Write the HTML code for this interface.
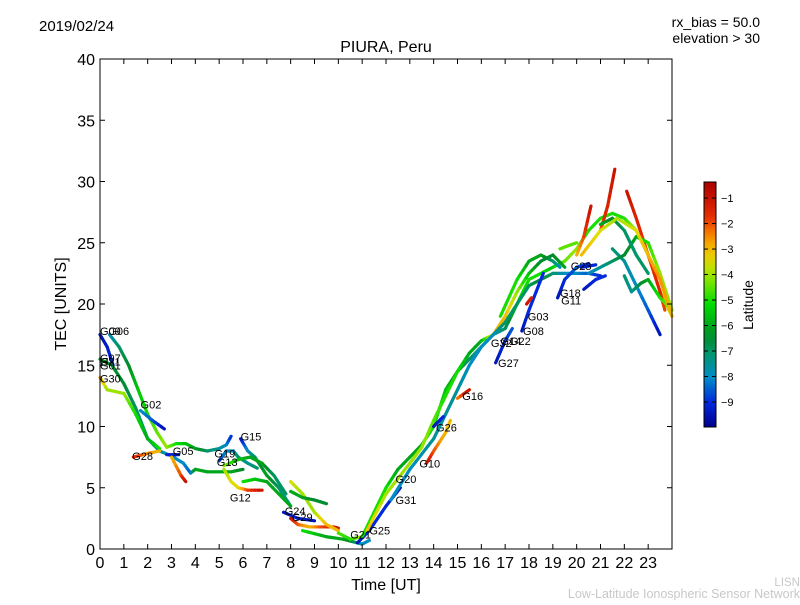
<!DOCTYPE html>
<html><head><meta charset="utf-8"><style>
body{margin:0;background:#fff;width:800px;height:600px;overflow:hidden}
svg text{font-family:"Liberation Sans","DejaVu Sans",sans-serif}
</style></head><body>
<svg id="chart" width="800" height="600" xmlns="http://www.w3.org/2000/svg">
<text x="39" y="31" font-size="15">2019/02/24</text>
<text x="760" y="27" font-size="14" text-anchor="end">rx_bias = 50.0</text>
<text x="760" y="43" font-size="14" text-anchor="end">elevation &gt; 30</text>
<text x="386" y="52" font-size="16" text-anchor="middle">PIURA, Peru</text>
<text x="386" y="590" font-size="16" text-anchor="middle">Time [UT]</text>
<text x="66" y="304" font-size="16" text-anchor="middle" transform="rotate(-90 66 304)">TEC [UNITS]</text>
<text x="800" y="586" font-size="11.5" fill="#c8c8c8" text-anchor="end">LISN</text>
<text x="800" y="598" font-size="12.5" fill="#c8c8c8" text-anchor="end">Low-Latitude Ionospheric Sensor Network</text>
<g id="marks"></g>
<g id="axes"></g>
<g id="cbar"></g>
</svg>
<script>
// x ticks (hours), y ticks (TEC), colorbar ticks (latitude)
const xTicks=[0,1,2,3,4,5,6,7,8,9,10,11,12,13,14,15,16,17,18,19,20,21,22,23];
const yTicks=[0,5,10,15,20,25,30,35,40];
const latTicks=[-1,-2,-3,-4,-5,-6,-7,-8,-9];
// satellite tracks: [time, TEC, latitude]
const trackA=[[0,17.5,-9.5],[0.3,16.5,-9.3],[0.55,15,-9]];
const trackB=[[0.4,17.5,-8],[0.8,16.5,-7],[1.2,15,-6.5],[1.6,13,-5.5],[2,11,-5],[2.4,9.5,-4.5],[2.8,8.3,-4],[3.2,8.6,-5],[3.6,8.6,-5.5],[4,8.2,-6],[4.5,8.0,-7],[5,8.2,-7.5],[5.3,8.5,-8],[5.5,9.2,-9]];
const trackC=[[0,15.5,-6],[0.5,15,-6.5],[1,13.5,-6.5],[1.5,11.5,-7],[2,9,-7],[2.5,8,-7.5],[3,7.6,-8],[3.5,7,-8],[3.8,6.2,-8.5],[4,6.5,-6],[4.5,6.3,-6],[5,6.3,-6],[5.5,6.3,-6],[6,6.5,-6.5]];
const trackD=[[0,14,-2.5],[0.3,13,-4],[1,12.7,-4],[1.5,11,-5],[2,9,-6],[2.5,8.2,-5]];
const trackE=[[1.7,11.3,-8],[2.2,10.5,-8.5],[2.7,9.8,-9.5]];
const trackF=[[1.4,7.5,-1.5],[2.0,7.8,-2.5],[2.5,8,-3]];
const trackG=[[2.8,7.7,-9],[3.3,7.7,-9.5]];
const trackH=[[3,7.5,-3],[3.4,6,-2],[3.6,5.5,-1]];
const trackI=[[5,7.2,-9],[5.3,8,-8],[5.6,8,-8],[5.8,7.5,-7],[6.2,7,-7.5],[6.6,6.6,-7]];
const trackJ=[[5.2,6.5,-4],[5.5,5.5,-3.5],[5.8,5,-3.5],[6.2,4.8,-2],[6.8,4.8,-1]];
const trackK=[[5.9,9,-9.5],[6.2,8,-8],[6.5,7.5,-7],[7,6,-6],[7.5,5,-7],[8,3.5,-7.5]];
const trackL=[[5.2,6.8,-4],[5.8,7.3,-5.5],[6.3,7.5,-6],[6.8,7,-6],[7.3,6,-7],[7.8,4.5,-7]];
const trackM=[[6,5.5,-5],[6.5,5.7,-5.5],[7,5.5,-6],[7.5,4.5,-6],[8,3.5,-6]];
const trackN=[[7.7,3,-9.5],[8.3,2.5,-9],[9,2.3,-9.5]];
const trackO=[[8,2.5,-1],[8.3,2,-2],[8.8,1.8,-3],[9.3,1.8,-2],[9.8,1.8,-1.5],[10,1.7,-1]];
const trackP=[[8,5.5,-3.5],[8.5,4.5,-4],[9,3,-4],[9.5,2,-3],[10,1.5,-3]];
const trackQ=[[8,4.7,-6],[8.5,4.2,-6],[9,4,-6.5],[9.5,3.7,-6.5]];
const trackR=[[8.5,1.5,-5],[9.5,1,-6],[10.2,0.8,-6],[10.8,0.5,-7],[11,0.4,-8],[11.3,0.7,-8]];
const trackS=[[10,1.3,-4.5],[10.5,0.8,-5],[11,1,-4],[11.3,1.5,-3]];
const trackT=[[10.8,0.5,-9.5],[11.3,1.5,-9],[12,3.5,-9],[12.6,5,-9.5]];
const trackU=[[11,1,-5],[11.5,3,-5],[12,5,-5],[12.5,6.5,-6],[13,7.5,-6],[13.5,8.5,-6],[14,10,-5],[14.5,13,-5.5],[15,14.5,-6.5],[15.5,15.5,-7],[16,16.5,-7.5],[16.5,17.5,-8],[17,18,-7],[17.5,20,-5.5],[18,22,-5],[18.5,22.5,-5],[19,23,-5.5],[19.5,23.5,-4.5],[20,24.5,-4],[20.5,26,-5],[21,27,-5],[21.5,27.4,-5],[22,27,-5],[22.5,26,-4],[23,24,-3.5],[23.5,21,-3.5],[24,19,-4]];
const trackV=[[11.2,1.5,-3],[12,4.5,-4],[13,7,-4],[13.5,8.3,-4],[14,10.5,-4.5],[14.5,12.5,-5],[15,14.5,-5],[15.5,16,-6],[16,17,-6],[16.5,17.5,-3],[17,19,-3],[17.5,21,-4],[18,22.5,-5.5],[18.5,23.5,-6.5],[19,24,-6.5],[19.5,23,-6]];
const trackW=[[16.8,19,-5],[17.5,22,-5],[18,23.5,-6],[18.5,24,-6],[19,23.5,-7],[19.3,23,-8]];
const trackX=[[19.3,24.5,-4.5],[19.7,24.8,-4.5],[20,25,-4.5]];
const trackY=[[12.2,4,-8],[13,6.5,-8],[14,9,-7.5],[15,13,-7.5],[15.5,15,-8],[16,16.5,-8],[16.5,17.5,-8],[17,18.5,-7],[17.5,20,-7],[18,21.5,-7],[18.5,22,-6.5],[19,22.5,-7],[19.5,22.5,-8],[20,22.5,-8],[20.5,22.5,-8.5],[21,22.3,-9]];
const trackZ=[[14,10,-9.5],[14.4,10.8,-9]];
const track16=[[15,12.3,-2.5],[15.5,13,-1]];
const track10=[[13.7,7,-1],[14,8,-2],[14.5,9.5,-3],[14.7,10.5,-3]];
const track27=[[16.6,15.2,-9.5],[17,17,-9],[17.3,18,-8.5]];
const track08=[[17.7,17.8,-9.5],[18,19.5,-9],[18.3,21,-9],[18.6,22.5,-9]];
const track03=[[17.9,20,-1],[18.1,20.5,-1.5]];
const track18=[[19.2,20.5,-9.5],[19.5,22,-9],[20,23,-8.5],[20.5,23.3,-9]];
const track23=[[20.2,23,-9.5],[20.8,23.2,-9]];
const trackBl=[[20.3,21.2,-9.5],[20.8,22,-9],[21.2,22.3,-9]];
const trackR1=[[20,24,-3],[20.3,25.5,-2],[20.6,28,-1]];
const trackR2=[[21,26,-2],[21.3,28,-1.5],[21.6,31,-1]];
const trackR3=[[22.1,29.2,-1],[22.5,27,-1.5],[23,24,-2],[23.5,21,-1.5],[23.7,19.5,-2]];
const trackTd=[[21.5,24.5,-7],[22,23.5,-7.5],[22.5,21.5,-8],[23,19.5,-8.5],[23.5,17.5,-9.5]];
const trackGd=[[22,22.3,-7],[22.3,21,-7.5],[22.7,21.7,-6.5],[23,22,-6],[23.5,20.5,-5],[24,19.5,-4]];
const trackTu=[[20.5,22.5,-8],[21,23,-7.5],[21.5,23.5,-7],[22,24,-6.5],[22.5,25.5,-6],[23,25,-5],[23.5,22.5,-4],[24,19.5,-4]];
const trackGu=[[21,26.5,-6],[21.5,27,-6.5],[22,26,-7],[22.5,24,-7],[23,22.5,-7]];
const trackOr=[[20.2,24,-3],[21,26,-3.5],[21.7,27,-4],[22.5,26,-3.5],[23,24,-3],[23.5,22,-2.5],[24,19,-3]];
const tracks=[trackA,trackB,trackC,trackD,trackE,trackF,trackG,trackH,trackI,trackJ,trackK,trackL,trackM,trackN,trackO,trackP,trackQ,trackR,trackS,trackT,trackU,trackV,trackW,trackX,trackY,trackZ,track16,track10,track27,track08,track03,track18,track23,trackBl,trackR1,trackR2,trackR3,trackTd,trackGd,trackTu,trackGu,trackOr];
// satellite labels
const labelNames=["G09","G06","G07","G21","G01","G30","G02","G28","G05","G19","G13","G15","G12","G24","G29","G21","G25","G20","G31","G10","G26","G16","G32","G14","G22","G27","G08","G03","G18","G11","G23"];
const labelTimes=[0,0.35,0,0,0,0,1.7,1.35,3.05,4.8,4.9,5.9,5.45,7.75,8.05,10.5,11.3,12.4,12.4,13.4,14.1,15.2,16.4,16.8,17.2,16.7,17.75,17.95,19.3,19.35,19.75];
const labelTecs=[17.8,17.8,15.6,15.3,15.0,13.9,11.8,7.6,8.0,7.8,7.1,9.2,4.2,3.1,2.6,1.2,1.5,5.7,4.0,7.0,9.9,12.5,16.8,17.0,17.0,15.2,17.8,19.0,20.9,20.3,23.1];

const NS="http://www.w3.org/2000/svg";
const X0=100,X1=672,Y0=549,Y1=59;
const xs=t=>X0+(t/24)*(X1-X0);
const ys=v=>Y0-(v/40)*(Y0-Y1);
const LMIN=-9.98,LMAX=-0.37;
const cmapStops=[[0,[0,0,140]],[0.1,[0,40,220]],[0.2,[0,140,200]],[0.3,[0,150,110]],[0.37,[0,140,40]],[0.5,[0,220,0]],[0.6,[130,230,0]],[0.68,[230,220,0]],[0.77,[250,150,0]],[0.86,[230,40,0]],[1,[170,0,0]]];
function cmap(f){f=Math.max(0,Math.min(1,f));
 for(let i=0;i<cmapStops.length-1;i++){const [a,ca]=cmapStops[i],[b,cb]=cmapStops[i+1];
  if(f<=b){const u=(f-a)/(b-a);return `rgb(${ca.map((c,k)=>Math.round(c+(cb[k]-c)*u)).join(',')})`;}}
 return 'rgb(170,0,0)';}
const latColor=l=>cmap((l-LMIN)/(LMAX-LMIN));
function mk(tag,attrs,parent){const e=document.createElementNS(NS,tag);for(const k in attrs)e.setAttribute(k,attrs[k]);parent.appendChild(e);return e;}

const marks=document.getElementById('marks');
tracks.forEach((tr,ti)=>{
 const g=mk('g',{},marks);
 
 
 for(let i=0;i<tr.length-1;i++){
  const a=tr[i],b=tr[i+1];const n=4;
  for(let k=0;k<n;k++){
   const f0=k/n,f1=(k+1)/n;
   mk('line',{x1:xs(a[0]+(b[0]-a[0])*f0),y1:ys(a[1]+(b[1]-a[1])*f0),x2:xs(a[0]+(b[0]-a[0])*f1),y2:ys(a[1]+(b[1]-a[1])*f1),stroke:latColor(a[2]+(b[2]-a[2])*(f0+f1)/2),'stroke-width':3.2,'stroke-linecap':'round'},g);
  }
 }
});
labelNames.forEach((nm,i)=>{
 const t=mk('text',{x:xs(labelTimes[i]),y:ys(labelTecs[i])+4,'font-size':11},marks);
 
 
 t.textContent=nm;
});

const axes=document.getElementById('axes');
const frame=mk('rect',{x:X0,y:Y1,width:X1-X0,height:Y0-Y1,fill:'none',stroke:'#000','stroke-width':1},axes);


xTicks.forEach(v=>{
 const x=xs(v);
 mk('line',{x1:x,y1:Y0,x2:x,y2:Y0-5,stroke:'#000'},axes);
 mk('line',{x1:x,y1:Y1,x2:x,y2:Y1+5,stroke:'#000'},axes);
 const t=mk('text',{x:x,y:Y0+19,'font-size':16,'text-anchor':'middle'},axes);
 
 
 t.textContent=v;
});
yTicks.forEach(v=>{
 const y=ys(v);
 mk('line',{x1:X0,y1:y,x2:X0+5,y2:y,stroke:'#000'},axes);
 mk('line',{x1:X1,y1:y,x2:X1-5,y2:y,stroke:'#000'},axes);
 const t=mk('text',{x:X0-5,y:y+6,'font-size':16,'text-anchor':'end'},axes);
 
 
 t.textContent=v;
});

const cb=document.getElementById('cbar');
const CX=704,CW=12,CT=182,CB=427;
const defs=mk('defs',{},cb);
const grad=mk('linearGradient',{id:'cmapg',x1:0,y1:1,x2:0,y2:0},defs);
for(let i=0;i<=20;i++)mk('stop',{offset:i/20,'stop-color':cmap(i/20)},grad);
const cr=mk('rect',{x:CX,y:CT,width:CW,height:CB-CT,fill:'url(#cmapg)',stroke:'#000','stroke-width':1},cb);


const cy=l=>CB-(l-LMIN)/(LMAX-LMIN)*(CB-CT);
latTicks.forEach(l=>{
 const y=cy(l);
 mk('line',{x1:CX+CW-4,y1:y,x2:CX+CW,y2:y,stroke:'#000'},cb);
 mk('line',{x1:CX,y1:y,x2:CX+4,y2:y,stroke:'#000'},cb);
 const t=mk('text',{x:CX+CW+5,y:y+4,'font-size':11},cb);
 
 
 t.textContent='\u2212'+Math.abs(l);
});
const lt=mk('text',{x:753,y:305,'font-size':14,'text-anchor':'middle',transform:'rotate(-90 753 305)'},cb);


lt.textContent='Latitude';
</script>
</body></html>
